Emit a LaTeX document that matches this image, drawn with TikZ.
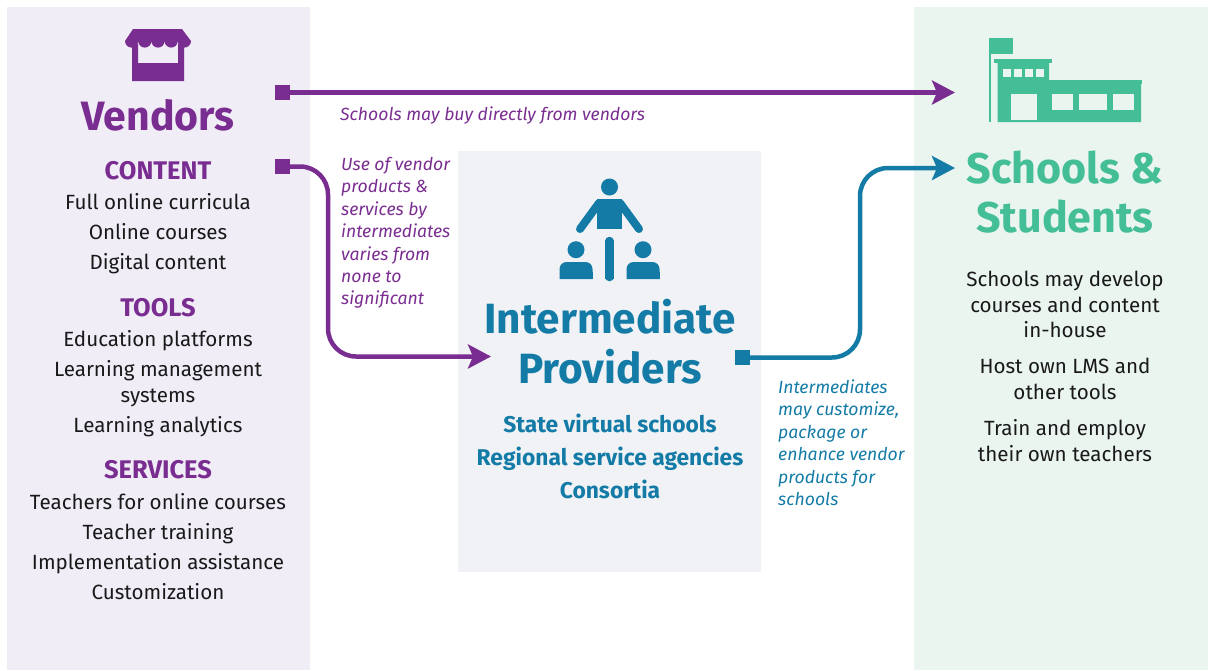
\documentclass[tikz,border=0pt]{standalone}
\usepackage{fontspec}
\setmainfont{Fira Sans}
\usetikzlibrary{arrows.meta}
\definecolor{vendorc}{HTML}{7A2D90}
\definecolor{interc}{HTML}{137BA6}
\definecolor{schoolc}{HTML}{43BE96}
\definecolor{vendorbg}{HTML}{F0EDF7}
\definecolor{interbg}{HTML}{F0F2F6}
\definecolor{schoolbg}{HTML}{EBF5F0}
\tikzset{
	bodytext/.style={anchor=base,font=\fontsize{20.6}{24}\selectfont,text=black!90,inner sep=0pt},
	headtext/.style={anchor=base,font=\fontsize{25.5}{30}\selectfont\bfseries,inner sep=0pt},
	titletext/.style={anchor=base,font=\fontsize{#1}{50}\selectfont\bfseries,inner sep=0pt},
	subtext/.style={anchor=base,font=\fontsize{22.8}{27}\selectfont\bfseries,text=interc,inner sep=0pt},
	notetext/.style={anchor=base west,font=\fontsize{17.6}{22}\selectfont\itshape,inner sep=0pt},
	startbox/.style={fill=#1,minimum size=15pt,inner sep=0pt},
	flowline/.style={line width=4.5pt,rounded corners=28pt,-{Stealth[length=23pt,width=24pt,inset=5pt]}}
}
\begin{document}
\begin{tikzpicture}[x=1pt,y=-1pt]
	\useasboundingbox (0,0) rectangle (1208,670);
	\fill[vendorbg] (7,7) rectangle (310,670);
	\fill[interbg] (458,151) rectangle (761,572);
	\fill[schoolbg] (914,7) rectangle (1208,670);
	
	% store
	\fill[vendorc] (133,29) -- (182,29) -- (191,41) arc (0:180:6.6) arc (0:180:6.6) arc (0:180:6.6) arc (0:180:6.6) arc (0:180:6.6) -- cycle;
	\fill[vendorc] (132,44) -- (138,44) -- (138,63) -- (178,63) -- (178,44) -- (184,44) -- (184,81) -- (132,81) -- cycle;
	
	% school
	\fill[schoolc] (988.5,38) rectangle (1013,53.5);
	\fill[schoolc] (988.5,53) rectangle (991,122);
	\fill[schoolc] (994,59) rectangle (1052,63);
	\fill[schoolc] (1049,80) rectangle (1142,84);
	\fill[schoolc] (997.5,63) -- (1049,63) -- (1049,84) -- (1141,84) -- (1141,122) -- (997.5,122) -- cycle;
	\foreach \x in {1002.5,1013.5,1024.5,1035.5}
	\fill[schoolbg] (\x,69) rectangle ++(8.5,7.5);
	\fill[schoolbg] (1011,94) rectangle (1037,120);
	\fill[schoolbg] (1052,94) rectangle (1073,110);
	\fill[schoolbg] (1079,94) rectangle (1107,110);
	\fill[schoolbg] (1113,94) rectangle (1134,110);
	
	% people
	\fill[interc] (609.5,187) circle (8.5);
	\fill[interc] (597,229) -- (597,199) -- (622,199) -- (622,229) -- cycle;
	\draw[interc,line width=8pt,line cap=round] (599,203) -- (580,229);
	\draw[interc,line width=8pt,line cap=round] (620,203) -- (639,229);
	\draw[interc,line width=8.5pt,line cap=round] (609.5,241) -- (609.5,277);
	\fill[interc] (605.2,270) rectangle (613.8,279);
	\foreach \x in {576,643}{
		\fill[interc] (\x,249.7) circle (8.5);
		\fill[interc,rounded corners=7pt] (\x-16.5,279) -- (\x-16.5,262) -- (\x+16.5,262) -- (\x+16.5,279);
		\fill[interc] (\x-16.5,272) rectangle (\x+16.5,279);
	}
	
	% vendors
	\node[titletext=41,text=vendorc] (vendors) at (158,130.5) {Vendors};
	\node[headtext,text=vendorc] (content) at (158,179) {CONTENT};
	\node[headtext,text=vendorc] (tools) at (158,316) {TOOLS};
	\node[headtext,text=vendorc] (services) at (158,478) {SERVICES};
	\foreach \y/\t in {209/Full online curricula,239/Online courses,269/Digital content,346/Education platforms,376/Learning management,402/systems,432/Learning analytics,509/Teachers for online courses,539/Teacher training,569/Implementation assistance,599/Customization}
	\node[bodytext] (vendor\y) at (158,\y) {\t};
	
	% intermediates
	\node[titletext=42.3,text=interc] (inter) at (610,333) {Intermediate};
	\node[titletext=42.3,text=interc] (prov) at (610,383) {Providers};
	\node[subtext] (state) at (610,432) {State virtual schools};
	\node[subtext] (regional) at (610,465) {Regional service agencies};
	\node[subtext] (consortia) at (610,498) {Consortia};
	
	% schools
	\node[titletext=43,text=schoolc] (schools) at (1065,183) {Schools \&};
	\node[titletext=43,text=schoolc] (students) at (1065,232) {Students};
	\foreach \y/\t in {286/Schools may develop,312/courses and content,337/in-house,373/Host own LMS and,399/other tools,435/Train and employ,461/their own teachers}
	\node[bodytext] (school\y) at (1065,\y) {\t};
	
	% notes
	\node[notetext,text=vendorc] (direct) at (340,120) {Schools may buy directly from vendors};
	\foreach \y/\t in {170/Use of vendor,192/products \&,215/services by,237/intermediates,260/varies from,282/none to,304/significant}
	\node[notetext,text=vendorc] (use\y) at (341,\y) {\t};
	\foreach \y/\t in {393/Intermediates,415/{may customize,},438/package or,460/enhance vendor,483/products for,505/schools}
	\node[notetext,text=interc] (cust\y) at (778,\y) {\t};
	
	% connectors
	\node[startbox=vendorc] (s1) at (282.5,92.5) {};
	\node[startbox=vendorc] (s2) at (282.5,166.5) {};
	\node[startbox=interc] (s3) at (742.5,357.5) {};
	\coordinate (e1) at (955,92.5);
	\coordinate (e2) at (491,356.5);
	\coordinate (e3) at (955,168);
	
	\draw[flowline,vendorc] (s1) -- (e1);
	\draw[flowline,vendorc] (s2) -| (328,356.5) -- (e2);
	\draw[flowline,interc] (s3) -| (860,168) -- (e3);
\end{tikzpicture}
\end{document}
